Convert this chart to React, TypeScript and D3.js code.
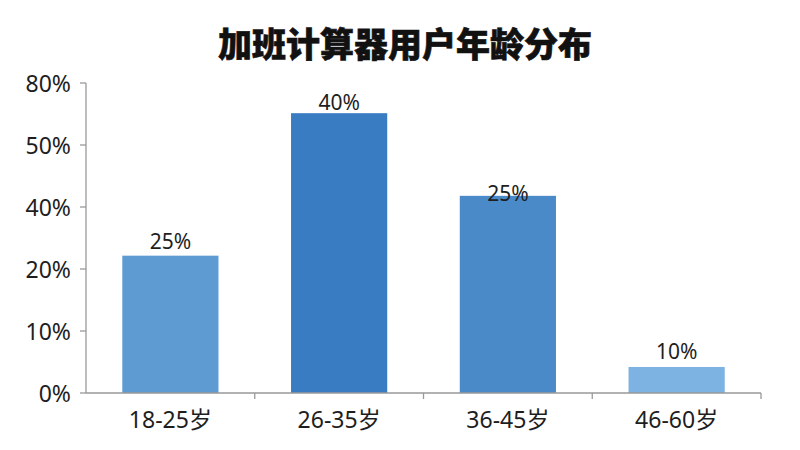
import React from "react";
import * as d3 from "d3";

const title = "加班计算器用户年龄分布";
const categories = ["18-25岁", "26-35岁", "36-45岁", "46-60岁"];
// bar heights read against the (non-uniform) axis ticks
const values = [24.3, 65.4, 41.8, 4.2];
const barLabels = ["25%", "40%", "25%", "10%"];
const tickValues = [0, 10, 20, 40, 50, 80];
const tickLabels = ["0%", "10%", "20%", "40%", "50%", "80%"];

// styling
const barColors = ["#5e9bd3", "#3a7cc1", "#4a8ac9", "#7db3e2"];
const labelGap = [15, 11, 3, 16];

const W = 800;
const H = 450;
const m = { left: 86, right: 39, top: 83, bottom: 57 };

export default function App() {
  const x0 = m.left;
  const x1 = W - m.right;
  const y0 = H - m.bottom;
  const y1 = m.top;
  const step = (y0 - y1) / (tickValues.length - 1);
  const y = d3
    .scaleLinear()
    .domain(tickValues)
    .range(tickValues.map((_, i) => y0 - i * step));
  const x = d3.scaleBand<string>().domain(categories).range([x0, x1]).padding(0);
  const bw = x.bandwidth() * 0.57;
  const font = "'Noto Sans', 'Noto Sans CJK SC', sans-serif";
  const bounds = [...categories.map((c) => x(c) as number), x1];

  return (
    <svg
      width={W}
      height={H}
      style={{ position: "absolute", left: 0, top: 0, background: "#fff" }}
      fontFamily={font}
    >
      <text
        x={W / 2 + 5}
        y={42}
        textAnchor="middle"
        dominantBaseline="central"
        fontSize={34}
        fontWeight={900}
        fontFamily="'Noto Sans CJK SC', sans-serif"
        fill="#111"
        stroke="#111"
        strokeWidth={0.6}
      >
        {title}
      </text>
      {categories.map((c, i) => {
        const cx = (x(c) as number) + x.bandwidth() / 2;
        const top = y(values[i]);
        return (
          <g key={c}>
            <rect x={cx - bw / 2} y={top} width={bw} height={y0 - top} fill={barColors[i]} />
            <text
              x={cx}
              y={top - labelGap[i]}
              textAnchor="middle"
              dominantBaseline="central"
              fontSize={21}
              fill="#1e1e1e"
            >
              {barLabels[i]}
            </text>
            <text
              x={cx}
              y={419}
              textAnchor="middle"
              dominantBaseline="central"
              fontSize={23}
              fill="#1e1e1e"
            >
              {c}
            </text>
          </g>
        );
      })}
      {/* y axis */}
      <line x1={x0} x2={x0} y1={y1} y2={y0} stroke="#999" strokeWidth={1.3} />
      {tickValues.map((t, i) => (
        <g key={t}>
          <line x1={x0 - 6} x2={x0} y1={y(t)} y2={y(t)} stroke="#999" strokeWidth={1.3} />
          <text
            x={x0 - 15}
            y={y(t)}
            textAnchor="end"
            dominantBaseline="central"
            fontSize={23}
            fill="#1e1e1e"
          >
            {tickLabels[i]}
          </text>
        </g>
      ))}
      {/* x axis */}
      <line x1={x0} x2={x1} y1={y0} y2={y0} stroke="#999" strokeWidth={1.3} />
      {bounds.slice(1).map((b, i) => (
        <line key={i} x1={b} x2={b} y1={y0} y2={y0 + 6} stroke="#999" strokeWidth={1.3} />
      ))}
    </svg>
  );
}
